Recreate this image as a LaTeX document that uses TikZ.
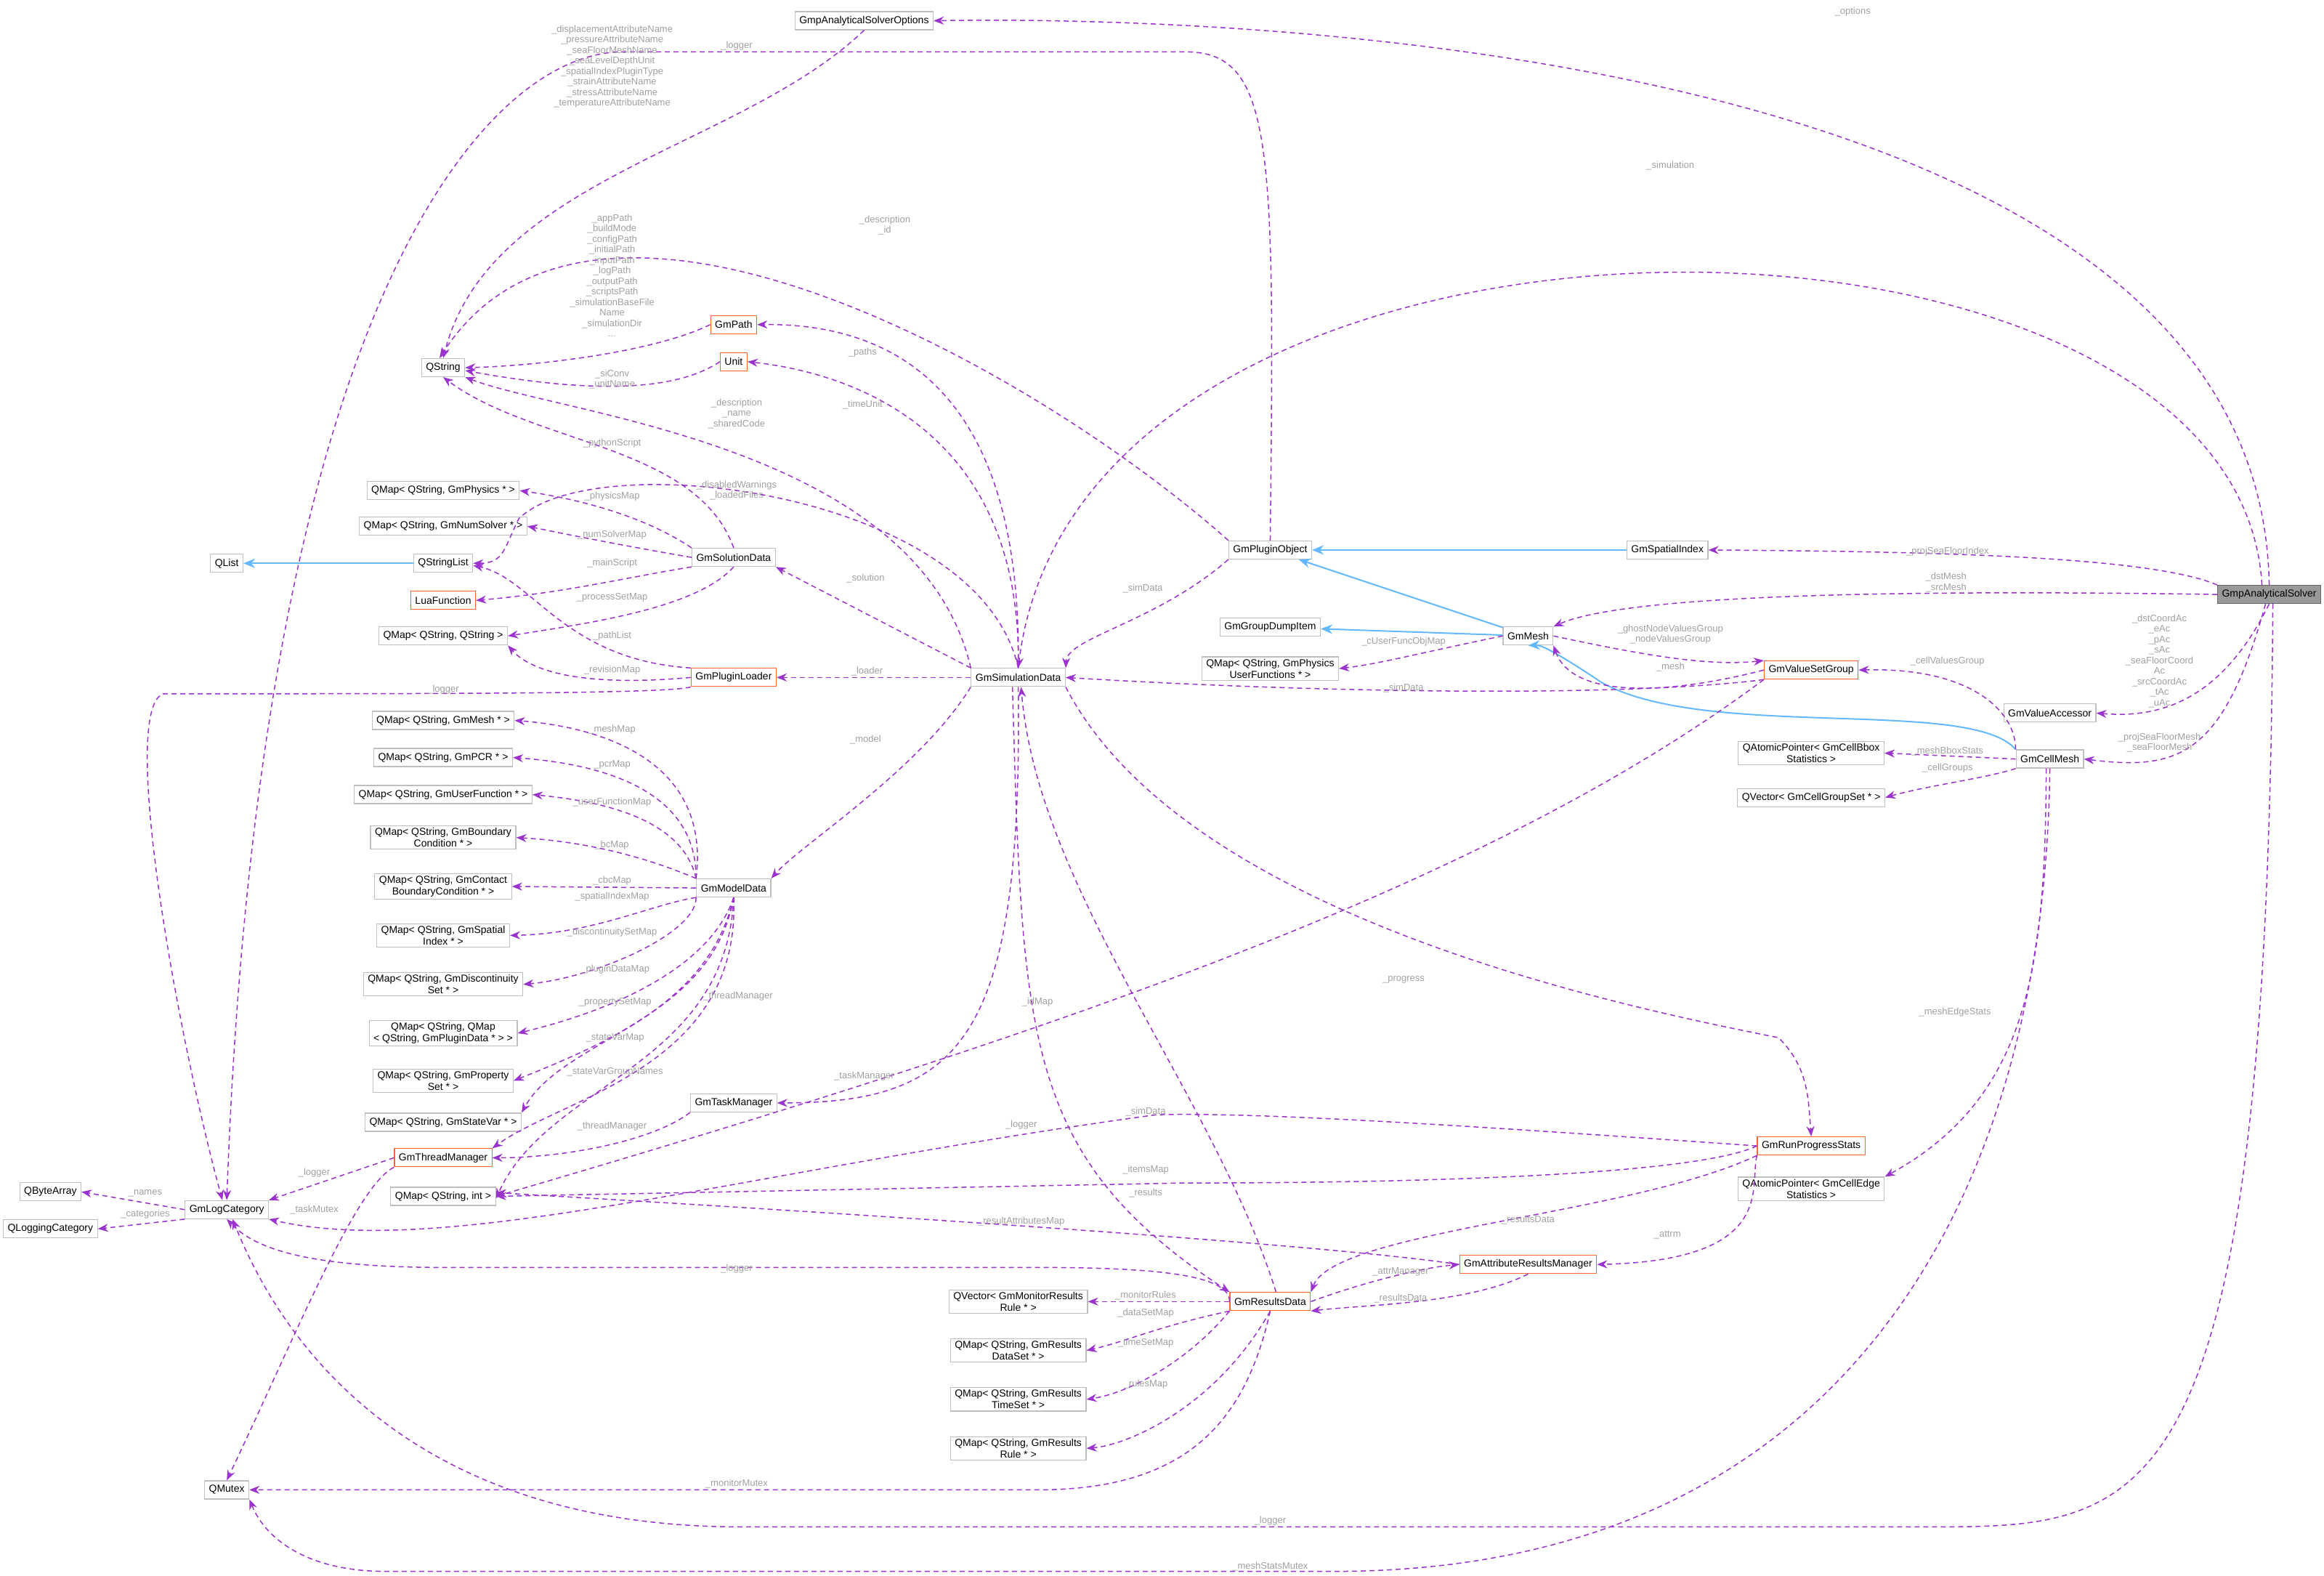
\documentclass[tikz,border=0pt]{standalone}
\usepackage{fontspec}
\setmainfont{Liberation Sans}
\usetikzlibrary{arrows.meta}
\definecolor{ep}{HTML}{9A32CD}
\definecolor{eb}{HTML}{63B8FF}
\definecolor{bx}{HTML}{BFBFBF}
\definecolor{ob}{HTML}{FF6433}
\definecolor{lg}{HTML}{A0A0A0}
\begin{document}
\begin{tikzpicture}[x=2.04pt,y=-2.04pt,
 bx/.style={draw=bx,line width=1.2pt,fill=white,font=\fontsize{14}{16}\selectfont,inner xsep=6pt,inner ysep=3pt,minimum height=25pt,align=center},
 ob/.style={bx,draw=ob},
 sv/.style={bx,draw=black!60,fill=black!40},
 e/.style={draw=ep,dashed,line width=1.5pt,dash pattern=on 7pt off 5pt,-{Stealth[length=14pt,width=11pt]}},
 ih/.style={draw=eb,line width=2pt,-{Stealth[length=16pt,width=13pt]}},
 l/.style={text=lg,font=\fontsize{13}{14.5}\selectfont,align=center,inner sep=1pt}]
\useasboundingbox (0,0) rectangle (1568,1062.7);
% nodes
\node[bx] (opts) at (583,14) {GmpAnalyticalSolverOptions};
\node[bx] (qs) at (299,248) {QString};
\node[ob] (path) at (495,219) {GmPath};
\node[ob] (unit) at (495,244) {Unit};
\node[bx] (qphys) at (299,331) {QMap< QString, GmPhysics * >};
\node[bx] (qnum) at (299,355) {QMap< QString, GmNumSolver * >};
\node[bx] (qlist) at (153,380) {QList};
\node[bx] (qsl) at (299,380) {QStringList};
\node[ob] (lua) at (299,405) {LuaFunction};
\node[bx] (qss) at (299,429) {QMap< QString, QString >};
\node[bx] (sol) at (495,376) {GmSolutionData};
\node[ob] (ldr) at (495,457) {GmPluginLoader};
\node[bx] (gsd) at (687,457) {GmSimulationData};
\node[bx] (qmesh) at (299,486) {QMap< QString, GmMesh * >};
\node[bx] (qpcr) at (299,511) {QMap< QString, GmPCR * >};
\node[bx] (quf) at (299,536) {QMap< QString, GmUserFunction * >};
\node[bx] (qbc) at (299,565) {QMap< QString, GmBoundary\\Condition * >};
\node[bx] (qcbc) at (299,598) {QMap< QString, GmContact\\BoundaryCondition * >};
\node[bx] (qsi) at (299,631) {QMap< QString, GmSpatial\\Index * >};
\node[bx] (qds) at (299,664) {QMap< QString, GmDiscontinuity\\Set * >};
\node[bx] (qpd) at (299,697) {QMap< QString, QMap\\< QString, GmPluginData * > >};
\node[bx] (qps) at (299,729) {QMap< QString, GmProperty\\Set * >};
\node[bx] (qsv) at (299,757) {QMap< QString, GmStateVar * >};
\node[bx] (md) at (495,599) {GmModelData};
\node[bx] (task) at (495,744) {GmTaskManager};
\node[ob] (thr) at (299,781) {GmThreadManager};
\node[bx] (qint) at (299,807) {QMap< QString, int >};
\node[bx] (qba) at (34,804) {QByteArray};
\node[bx] (log) at (153,816) {GmLogCategory};
\node[bx] (qlc) at (34,829) {QLoggingCategory};
\node[bx] (mtx) at (153,1005) {QMutex};
\node[bx] (qmr) at (687,878) {QVector< GmMonitorResults\\Rule * >};
\node[bx] (qrds) at (687,911) {QMap< QString, GmResults\\DataSet * >};
\node[bx] (qrts) at (687,944) {QMap< QString, GmResults\\TimeSet * >};
\node[bx] (qrr) at (687,977) {QMap< QString, GmResults\\Rule * >};
\node[ob] (res) at (857,878) {GmResultsData};
\node[ob] (arm) at (1031,853) {GmAttributeResultsManager};
\node[ob] (rps) at (1222,773) {GmRunProgressStats};
\node[bx] (qedge) at (1222,802) {QAtomicPointer< GmCellEdge\\Statistics >};
\node[bx] (po) at (857,371) {GmPluginObject};
\node[bx] (spi) at (1125,371) {GmSpatialIndex};
\node[bx] (gdi) at (857,423) {GmGroupDumpItem};
\node[bx] (qpuf) at (857,451) {QMap< QString, GmPhysics\\UserFunctions * >};
\node[bx] (mesh) at (1031,429) {GmMesh};
\node[ob] (vsg) at (1222,452) {GmValueSetGroup};
\node[bx] (acc) at (1383,481) {GmValueAccessor};
\node[bx] (cm) at (1383,512) {GmCellMesh};
\node[bx] (qbb) at (1222,508) {QAtomicPointer< GmCellBbox\\Statistics >};
\node[bx] (qcg) at (1222,538) {QVector< GmCellGroupSet * >};
\node[sv] (solv) at (1531,401) {GmpAnalyticalSolver};
% inheritance
\draw[ih] (qsl) -- (qlist);
\draw[ih] (spi) -- (po);
\draw[ih] (mesh) -- (po);
\draw[ih] (mesh) -- (gdi);
\draw[ih] (cm.north west) .. controls (1330,470) and (1150,500) .. (1080,460) .. controls (1050,440) and (1040,435) .. (mesh.south);
% solver edges
\draw[e] (solv.north) .. controls (1525,10) and (750,12) .. (opts.east);
\draw[e] ([xshift=-10pt]solv.north) .. controls (1510,110) and (730,100) .. (gsd.north);
\draw[e] (solv.north west) .. controls (1450,375) and (1300,372) .. (spi.east);
\draw[e] (solv.west) .. controls (1300,398) and (1100,400) .. (mesh.north east);
\draw[e] (solv.south) .. controls (1500,470) and (1460,485) .. (acc.east);
\draw[e] ([xshift=-5pt]solv.south) .. controls (1500,510) and (1470,520) .. (cm.east);
\draw[e] ([xshift=5pt]solv.south) .. controls (1530,1030) and (1450,1030) .. (1300,1030) -- (500,1030) .. controls (300,1030) and (200,930) .. ([xshift=8pt]log.south);
\draw[e] (cm.south) .. controls (1380,800) and (1250,1060) .. (900,1060) -- (260,1060) .. controls (210,1060) and (180,1040) .. (mtx.south east);
% plugin object
\draw[e] (po.north) .. controls (860,100) and (860,35) .. (800,35) -- (420,35) .. controls (330,35) and (175,200) .. (log.north);
\draw[e] (po.north west) .. controls (700,250) and (400,80) .. ([xshift=-5pt]qs.north);
\draw[e] (opts.south) .. controls (500,100) and (330,120) .. (qs.north);
\draw[e] (po.south west) .. controls (780,420) and (720,430) .. (gsd.north east);
% QString
\draw[e] (path.west) .. controls (440,238) and (360,247) .. (qs.east);
\draw[e] (unit.west) .. controls (450,268) and (380,262) .. ([yshift=-4pt]qs.east);
\draw[e] (gsd.north west) .. controls (620,300) and (380,280) .. (qs.south east);
\draw[e] (sol.north) .. controls (470,300) and (360,300) .. (qs.south);
\draw[e] (gsd.north) .. controls (660,330) and (400,300) .. (350,350) .. controls (340,370) and (340,380) .. (qsl.east);
\draw[e] (gsd.north) .. controls (690,260) and (600,218) .. (path.east);
\draw[e] (gsd.north) .. controls (690,280) and (560,250) .. (unit.east);
% solution data
\draw[e] (sol.north west) .. controls (430,345) and (380,335) .. (qphys.east);
\draw[e] (sol.west) .. controls (420,368) and (380,360) .. (qnum.east);
\draw[e] (sol.south west) .. controls (420,390) and (380,400) .. (lua.east);
\draw[e] (sol.south) .. controls (470,410) and (400,420) .. (qss.east);
\draw[e] (ldr.north west) .. controls (380,445) and (360,390) .. ([yshift=-3pt]qsl.east);
\draw[e] (ldr.west) .. controls (400,463) and (360,455) .. (qss.south east);
\draw[e] (ldr.south west) .. controls (450,468) and (300,468) .. (110,468) .. controls (80,480) and (120,700) .. ([xshift=-6pt]log.north);
% simulation data
\draw[e] (gsd.north west) -- (sol.south east);
\draw[e] (gsd.west) -- (ldr.east);
\draw[e] (gsd.south west) .. controls (620,520) and (540,570) .. (md.north east);
\draw[e] (vsg.south west) .. controls (1100,470) and (900,468) .. (gsd.east);
\draw[e] (gsd.south) .. controls (690,700) and (650,744) .. (task.east);
\draw[e] ([xshift=-8pt]gsd.south) .. controls (690,700) and (690,780) .. (res.north west);
\draw[e] ([xshift=8pt]res.north) .. controls (820,740) and (700,600) .. ([xshift=4pt]gsd.south);
\draw[e] (gsd.south east) .. controls (800,620) and (1100,680) .. (1200,700) .. controls (1220,720) and (1220,740) .. (rps.north);
% model data
\draw[e] (md.north west) .. controls (480,510) and (400,490) .. (qmesh.east);
\draw[e] (md.north west) .. controls (470,530) and (400,515) .. (qpcr.east);
\draw[e] (md.north west) .. controls (460,550) and (400,540) .. (quf.east);
\draw[e] (md.north west) .. controls (440,580) and (400,568) .. (qbc.east);
\draw[e] (md.west) -- (qcbc.east);
\draw[e] (md.south west) .. controls (440,610) and (400,630) .. (qsi.east);
\draw[e] (md.south west) .. controls (470,630) and (400,660) .. (qds.east);
\draw[e] (md.south) .. controls (480,650) and (420,680) .. (qpd.east);
\draw[e] (md.south) .. controls (480,670) and (420,700) .. (qps.east);
\draw[e] (md.south) .. controls (480,690) and (380,700) .. (qsv.north east);
\draw[e] (md.south) .. controls (490,720) and (370,730) .. ([yshift=-3pt]qint.east);
\draw[e] (md.south) .. controls (500,720) and (380,740) .. (thr.north east);
\draw[e] (task.south west) .. controls (440,770) and (380,781) .. (thr.east);
\draw[e] (thr.west) -- (log.north east);
\draw[e] (thr.south west) .. controls (240,800) and (200,900) .. (mtx.north);
\draw[e] (log.west) -- (qba.east);
\draw[e] (log.south west) -- (qlc.east);
% results
\draw[e] (vsg.south west) .. controls (1000,600) and (700,700) .. (qint.east);
\draw[e] (rps.west) .. controls (1150,790) and (1000,798) .. (800,798) -- (qint.east);
\draw[e] (rps.west) .. controls (1000,760) and (850,750) .. (780,752) .. controls (500,790) and (300,850) .. (log.south east);
\draw[e] (arm.west) .. controls (900,840) and (600,820) .. ([yshift=5pt]qint.east);
\draw[e] (res.west) .. controls (830,860) and (780,855) .. (700,855) -- (300,855) .. controls (200,855) and (170,840) .. (log.south);
\draw[e] (res.south) .. controls (840,960) and (800,1005) .. (700,1005) -- (mtx.east);
\draw[e] (rps.south west) .. controls (1100,820) and (900,830) .. (res.north east);
\draw[e] (rps.south west) .. controls (1180,800) and (1200,850) .. (arm.east);
\draw[e] (res.east) .. controls (920,865) and (960,855) .. (arm.west);
\draw[e] (arm.south) .. controls (990,880) and (920,880) .. (res.south east);
\draw[e] (res.west) -- (qmr.east);
\draw[e] (res.south west) .. controls (780,895) and (760,905) .. (qrds.east);
\draw[e] (res.south west) .. controls (800,920) and (760,940) .. (qrts.east);
\draw[e] (res.south) .. controls (820,950) and (760,975) .. (qrr.east);
% mesh
\draw[e] (mesh.west) .. controls (960,440) and (930,448) .. (qpuf.east);
\draw[e] (mesh.east) .. controls (1100,440) and (1150,450) .. (vsg.north west);
\draw[e] (vsg.west) .. controls (1120,470) and (1060,470) .. (mesh.south east);
\draw[e] (cm.north west) .. controls (1360,480) and (1330,450) .. (vsg.east);
\draw[e] (cm.west) -- (qbb.east);
\draw[e] (cm.south west) .. controls (1340,525) and (1300,530) .. (qcg.east);
\draw[e] ([xshift=-5pt]cm.south) .. controls (1380,650) and (1370,740) .. (qedge.north east);
% labels
\node[l] (l1) at (1250,8) {\_options};
\node[l] (l2) at (1127,112) {\_simulation};
\node[l] (l3) at (1314,372) {\_projSeaFloorIndex};
\node[l] (l4) at (1313,393) {\_dstMesh\\\_srcMesh};
\node[l] (l5) at (1457,446) {\_dstCoordAc\\\_eAc\\\_pAc\\\_sAc\\\_seaFloorCoord\\Ac\\\_srcCoordAc\\\_tAc\\\_uAc};
\node[l] (l6) at (1457,501) {\_projSeaFloorMesh\\\_seaFloorMesh};
\node[l] (l7) at (857,1026) {\_logger};
\node[l] (l8) at (857,1057) {\_meshStatsMutex};
\node[l] (l9) at (497,31) {\_logger};
\node[l] (l10) at (413,45) {\_displacementAttributeName\\\_pressureAttributeName\\\_seaFloorMeshName\\\_seaLevelDepthUnit\\\_spatialIndexPluginType\\\_strainAttributeName\\\_stressAttributeName\\\_temperatureAttributeName};
\node[l] (l11) at (597,152) {\_description\\\_id};
\node[l] (l12) at (413,186) {\_appPath\\\_buildMode\\\_configPath\\\_initialPath\\\_inputPath\\\_logPath\\\_outputPath\\\_scriptsPath\\\_simulationBaseFile\\Name\\\_simulationDir\\...};
\node[l] (l13) at (413,256) {\_siConv\\\_unitName};
\node[l] (l14) at (497,279) {\_description\\\_name\\\_sharedCode};
\node[l] (l15) at (413,299) {\_pythonScript};
\node[l] (l16) at (497,331) {\_disabledWarnings\\\_loadedFiles};
\node[l] (l17) at (582,238) {\_paths};
\node[l] (l18) at (582,273) {\_timeUnit};
\node[l] (l19) at (413,335) {\_physicsMap};
\node[l] (l20) at (413,361) {\_numSolverMap};
\node[l] (l21) at (413,380) {\_mainScript};
\node[l] (l22) at (413,403) {\_processSetMap};
\node[l] (l23) at (413,429) {\_pathList};
\node[l] (l24) at (413,452) {\_revisionMap};
\node[l] (l25) at (299,465) {\_logger};
\node[l] (l26) at (584,390) {\_solution};
\node[l] (l27) at (585,453) {\_loader};
\node[l] (l28) at (584,499) {\_model};
\node[l] (l29) at (771,397) {\_simData};
\node[l] (l30) at (947,464) {\_simData};
\node[l] (l31) at (413,492) {\_meshMap};
\node[l] (l32) at (413,516) {\_pcrMap};
\node[l] (l33) at (413,541) {\_userFunctionMap};
\node[l] (l34) at (413,570) {\_bcMap};
\node[l] (l35) at (413,594) {\_cbcMap};
\node[l] (l36) at (413,605) {\_spatialIndexMap};
\node[l] (l37) at (413,629) {\_discontinuitySetMap};
\node[l] (l38) at (415,654) {\_pluginDataMap};
\node[l] (l39) at (415,676) {\_propertySetMap};
\node[l] (l40) at (415,700) {\_stateVarMap};
\node[l] (l41) at (415,723) {\_stateVarGroupNames};
\node[l] (l42) at (498,672) {\_threadManager};
\node[l] (l43) at (413,760) {\_threadManager};
\node[l] (l44) at (583,726) {\_taskManager};
\node[l] (l45) at (212,791) {\_logger};
\node[l] (l46) at (212,816) {\_taskMutex};
\node[l] (l47) at (98,805) {\_names};
\node[l] (l48) at (98,819) {\_categories};
\node[l] (l49) at (700,676) {\_idMap};
\node[l] (l50) at (773,789) {\_itemsMap};
\node[l] (l51) at (689,759) {\_logger};
\node[l] (l52) at (689,824) {\_resultAttributesMap};
\node[l] (l53) at (497,856) {\_logger};
\node[l] (l54) at (497,1001) {\_monitorMutex};
\node[l] (l55) at (773,750) {\_simData};
\node[l] (l56) at (773,805) {\_results};
\node[l] (l57) at (947,661) {\_progress};
\node[l] (l58) at (1031,823) {\_resultsData};
\node[l] (l59) at (1125,833) {\_attrm};
\node[l] (l60) at (945,858) {\_attrManager};
\node[l] (l61) at (945,876) {\_resultsData};
\node[l] (l62) at (773,874) {\_monitorRules};
\node[l] (l63) at (773,886) {\_dataSetMap};
\node[l] (l64) at (773,906) {\_timeSetMap};
\node[l] (l65) at (773,934) {\_rulesMap};
\node[l] (l66) at (947,433) {\_cUserFuncObjMap};
\node[l] (l67) at (1127,428) {\_ghostNodeValuesGroup\\\_nodeValuesGroup};
\node[l] (l68) at (1127,450) {\_mesh};
\node[l] (l69) at (1314,446) {\_cellValuesGroup};
\node[l] (l70) at (1314,507) {\_meshBboxStats};
\node[l] (l71) at (1314,518) {\_cellGroups};
\node[l] (l72) at (1319,683) {\_meshEdgeStats};
\end{tikzpicture}
\end{document}
